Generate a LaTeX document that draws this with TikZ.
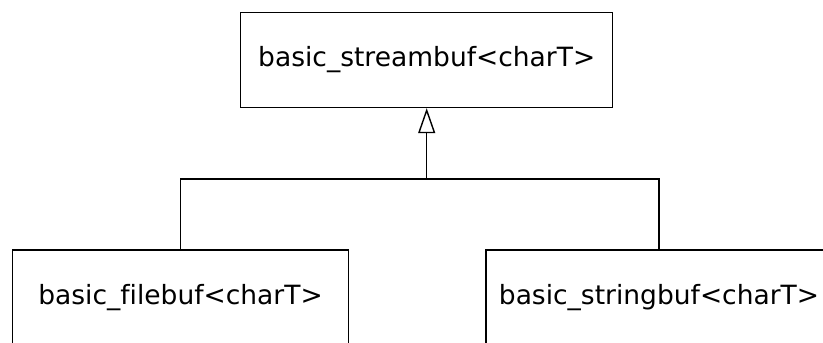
\documentclass[tikz,border=0pt]{standalone}
\usepackage{fontspec}
\setmainfont[Ligatures={NoCommon}]{DejaVu Sans}
\usetikzlibrary{arrows.meta}
\begin{document}
\begin{tikzpicture}[x=1pt,y=1pt,
  classbox/.style={draw, line width=1.4pt, inner sep=0pt, minimum height=95pt, font=\fontsize{26.5}{31}\selectfont},
  link/.style={line width=1.4pt}]
\useasboundingbox[fill=white] (0,0) rectangle (823,343);
\node[classbox, minimum width=372pt] (top) at (426.7,283) {basic\_streambuf<charT>};
\node[classbox, minimum width=335.6pt] (left) at (180.5,45.5) {basic\_filebuf<charT>};
\node[classbox, minimum width=346pt] (right) at (659,45.5) {basic\_stringbuf<charT>};
\coordinate (j) at (top.south |- 0,164);
\draw[link] (left.north) |- (j) -| (right.north);
\draw[link, -{Triangle[open, length=25pt, width=17pt, line width=1.4pt]}] (j) -- (top.south);
\end{tikzpicture}
\end{document}
